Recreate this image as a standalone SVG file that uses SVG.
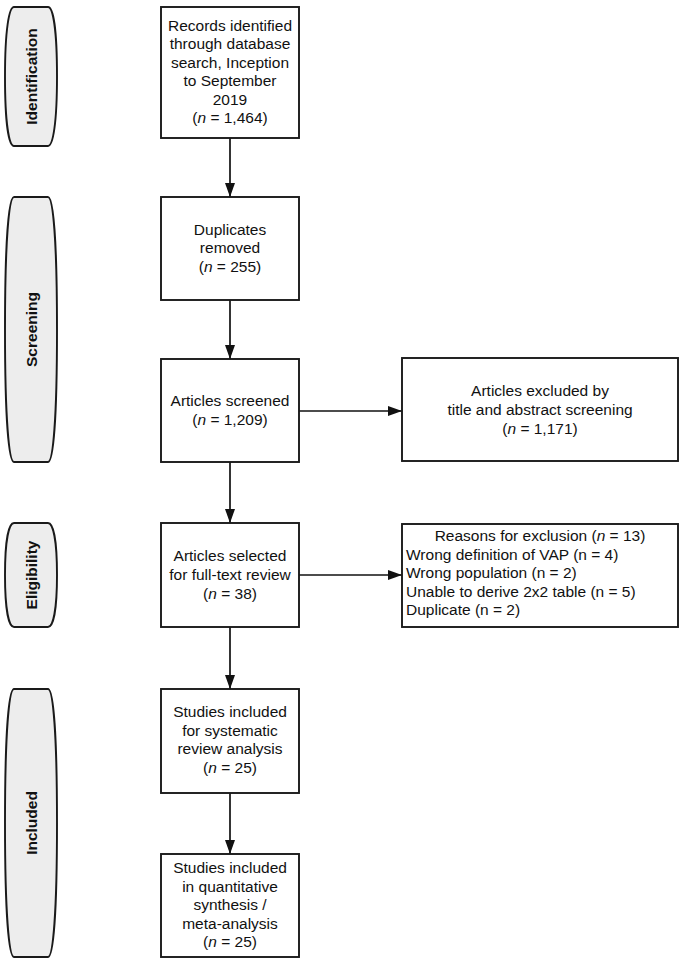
<svg xmlns="http://www.w3.org/2000/svg" width="685" height="966" viewBox="0 0 685 966">
<style>
.box{fill:#fff;stroke:#1a1a1a;stroke-width:1.9}
.pill{fill:#ededed;stroke:#1a1a1a;stroke-width:1.9}
.t{font-family:"Liberation Sans",Arial,sans-serif;font-size:15.5px;fill:#111;text-anchor:middle}
.l{text-anchor:start}
.p{font-family:"Liberation Sans",Arial,sans-serif;font-size:15.5px;font-weight:bold;fill:#111;text-anchor:middle;dominant-baseline:central}
.i{font-style:italic}
.c{stroke:#111;stroke-width:1.7;fill:none;marker-end:url(#ah)}
</style>
<defs>
<marker id="ah" viewBox="0 0 14 10" refX="14" refY="5" markerWidth="14" markerHeight="10" markerUnits="userSpaceOnUse" orient="auto">
<path d="M0,0 L14,5 L0,10 Z" fill="#111"/>
</marker>
</defs>
<rect width="685" height="966" fill="#fff"/>

<g id="stage-identification">
<path class="pill" d="M14,7 H48 C53,7 57,30 57,76.5 C57,123 53,146 48,146 H14 C9,146 5,123 5,76.5 C5,30 9,7 14,7 Z"/>
<text class="p" transform="translate(31,76.5) rotate(-90)">Identification</text>
</g>
<g id="stage-screening">
<path class="pill" d="M14,197 H48 C53,197 57,240 57,329.5 C57,419 53,462 48,462 H14 C9,462 5,419 5,329.5 C5,240 9,197 14,197 Z"/>
<text class="p" transform="translate(31,329.5) rotate(-90)">Screening</text>
</g>
<g id="stage-eligibility">
<path class="pill" d="M14,523 H48 C53,523 57,540 57,575 C57,610 53,627 48,627 H14 C9,627 5,610 5,575 C5,540 9,523 14,523 Z"/>
<text class="p" transform="translate(31,575) rotate(-90)">Eligibility</text>
</g>
<g id="stage-included">
<path class="pill" d="M14,689 H48 C53,689 57,733 57,823 C57,913 53,957 48,957 H14 C9,957 5,913 5,823 C5,733 9,689 14,689 Z"/>
<text class="p" transform="translate(31,823) rotate(-90)">Included</text>
</g>

<g id="connectors">
<line class="c" x1="230" y1="138" x2="230" y2="197"/>
<line class="c" x1="230" y1="300" x2="230" y2="359"/>
<line class="c" x1="230" y1="462" x2="230" y2="523"/>
<line class="c" x1="230" y1="627" x2="230" y2="689"/>
<line class="c" x1="230" y1="793" x2="230" y2="854"/>
<line class="c" x1="299" y1="411" x2="402" y2="411"/>
<line class="c" x1="299" y1="575" x2="402" y2="575"/>
</g>

<g id="records">
<rect class="box" x="161" y="7" width="138" height="131"/>
<text class="t" x="230" y="30.5">Records identified</text>
<text class="t" x="230" y="49">through database</text>
<text class="t" x="230" y="67.5">search, Inception</text>
<text class="t" x="230" y="86">to September</text>
<text class="t" x="230" y="104.5">2019</text>
<text class="t" x="230" y="123">(<tspan class="i">n</tspan> = 1,464)</text>
</g>
<g id="duplicates">
<rect class="box" x="161" y="197" width="138" height="103"/>
<text class="t" x="230" y="234.5">Duplicates</text>
<text class="t" x="230" y="253">removed</text>
<text class="t" x="230" y="271.5">(<tspan class="i">n</tspan> = 255)</text>
</g>
<g id="screened">
<rect class="box" x="161" y="359" width="138" height="103"/>
<text class="t" x="230" y="405.5">Articles screened</text>
<text class="t" x="230" y="424.5">(<tspan class="i">n</tspan> = 1,209)</text>
</g>
<g id="excluded-title">
<rect class="box" x="402" y="358" width="276" height="103"/>
<text class="t" x="540" y="395.5">Articles excluded by</text>
<text class="t" x="540" y="414.5">title and abstract screening</text>
<text class="t" x="540" y="433.5">(<tspan class="i">n</tspan> = 1,171)</text>
</g>
<g id="fulltext">
<rect class="box" x="161" y="523" width="138" height="104"/>
<text class="t" x="230" y="561">Articles selected</text>
<text class="t" x="230" y="580">for full-text review</text>
<text class="t" x="230" y="598.5">(<tspan class="i">n</tspan> = 38)</text>
</g>
<g id="reasons">
<rect class="box" x="402" y="524" width="276" height="103"/>
<text class="t" x="540" y="541">Reasons for exclusion (<tspan class="i">n</tspan> = 13)</text>
<text class="t l" x="406" y="559.5">Wrong definition of VAP (n = 4)</text>
<text class="t l" x="406" y="578">Wrong population (n = 2)</text>
<text class="t l" x="406" y="597">Unable to derive 2x2 table (n = 5)</text>
<text class="t l" x="406" y="615">Duplicate (n = 2)</text>
</g>
<g id="systematic">
<rect class="box" x="161" y="689" width="138" height="104"/>
<text class="t" x="230" y="717">Studies included</text>
<text class="t" x="230" y="735.5">for systematic</text>
<text class="t" x="230" y="754">review analysis</text>
<text class="t" x="230" y="772.5">(<tspan class="i">n</tspan> = 25)</text>
</g>
<g id="meta">
<rect class="box" x="161" y="854" width="138" height="103"/>
<text class="t" x="230" y="873">Studies included</text>
<text class="t" x="230" y="891.5">in quantitative</text>
<text class="t" x="230" y="910">synthesis /</text>
<text class="t" x="230" y="928.5">meta-analysis</text>
<text class="t" x="230" y="946.5">(<tspan class="i">n</tspan> = 25)</text>
</g>
</svg>
